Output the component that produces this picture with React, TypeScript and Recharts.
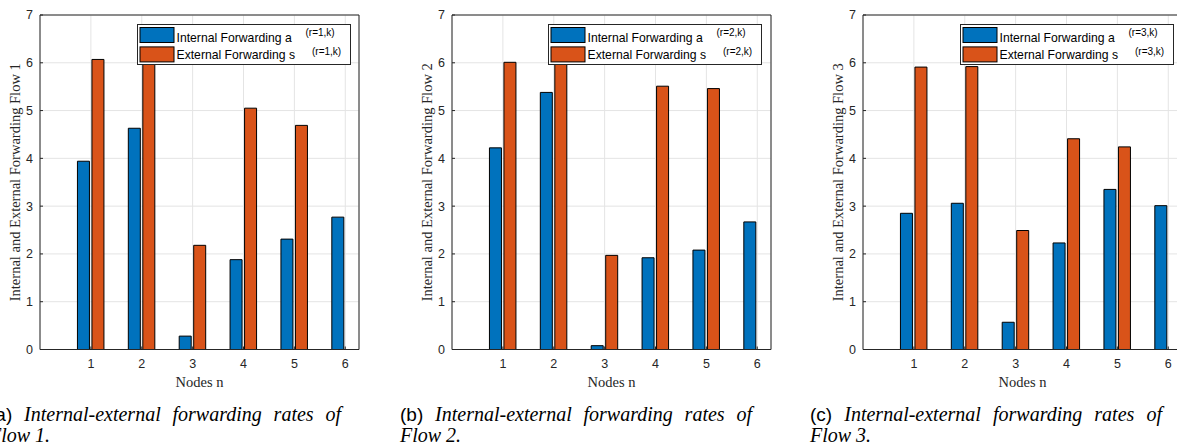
import React from 'react';
import { BarChart, Bar, XAxis, YAxis, CartesianGrid, Legend, Label } from 'recharts';

const nodes = [1, 2, 3, 4, 5, 6];
const flow1Internal = [3.94, 4.63, 0.28, 1.88, 2.31, 2.77];
const flow1External = [6.07, 6.25, 2.18, 5.05, 4.69, null];
const flow2Internal = [4.22, 5.38, 0.08, 1.92, 2.08, 2.67];
const flow2External = [6.01, 6.2, 1.97, 5.51, 5.46, null];
const flow3Internal = [2.85, 3.06, 0.57, 2.23, 3.35, 3.01];
const flow3External = [5.91, 5.92, 2.49, 4.41, 4.24, null];

const yTicks = [0, 1, 2, 3, 4, 5, 6, 7];
const xTicks = [1, 2, 3, 4, 5, 6];
const seriesKeys = ['a', 's'];
const seriesNames = ['Internal Forwarding a', 'External Forwarding s'];
const captionLine1 = 'Internal-external forwarding rates of';
const yLabelPrefix = 'Internal and External Forwarding Flow ';
const xLabelText = 'Nodes n';

const BLUE = '#0072BD';
const ORANGE = '#D95319';
const AXIS = '#262626';
const GRID = '#e4e4e4';
const SANS = '"Liberation Sans", Arial, Helvetica, sans-serif';
const SERIF = '"Liberation Serif", "Times New Roman", Times, serif';

const flows = [
  { id: 1, internal: flow1Internal, external: flow1External, left: 0.3, letter: 'a', capLeft: -11 },
  { id: 2, internal: flow2Internal, external: flow2External, left: 411.6, letter: 'b', capLeft: 400 },
  { id: 3, internal: flow3Internal, external: flow3External, left: 823.3, letter: 'c', capLeft: 810 },
];

const makeLegend = (flow: number) => (props: any) => {
  const colors = [BLUE, ORANGE];
  const payload = [...(props.payload || [])].sort(
    (p: any, q: any) => seriesKeys.indexOf(p.dataKey) - seriesKeys.indexOf(q.dataKey));
  return (
    <svg width={214} height={41} style={{ display: 'block' }}>
      <rect x={0.5} y={0.5} width={213} height={40} fill="#fff" stroke={AXIS} strokeWidth={1} />
      {payload.map((p: any, i: number) => (
        <g key={i}>
          <rect x={3} y={3.5 + i * 19.4} width={34} height={15} fill={p.color || colors[i]} stroke="#000" strokeWidth={1} />
          <text x={39.5} y={17.5 + i * 17.8} fontFamily={SANS} fontSize={12.2} fill="#000">{p.value}</text>
          <text x={168.5 + i * 6.5} y={11.8 + i * 18.8} fontFamily={SANS} fontSize={10} fill="#000">{`(r=${flow},k)`}</text>
        </g>
      ))}
    </svg>
  );
};

const Panel = ({ flow }: { flow: typeof flows[number] }) => {
  const data = nodes.map((n, i) => ({ n, a: flow.internal[i], s: flow.external[i] }));
  const yLabel = (props: any) => {
    const vb = props.viewBox || {};
    const cx = vb.x + vb.width - 25;
    const cy = vb.y + vb.height / 2;
    return (
      <text x={cx} y={cy} transform={`rotate(-90 ${cx} ${cy})`} textAnchor="middle" dy="0.33em"
        fontFamily={SERIF} fontSize={14.5} fill={AXIS}>{yLabelPrefix + flow.id}</text>
    );
  };
  const xLabel = (props: any) => {
    const vb = props.viewBox || {};
    const cx = vb.x + vb.width / 2;
    return (
      <text x={cx} y={vb.y + 37} textAnchor="middle" fontFamily={SERIF} fontSize={14.5} fill={AXIS}>{xLabelText}</text>
    );
  };
  return (
    <div style={{ position: 'absolute', left: flow.left, top: 0 }}>
      <BarChart width={400} height={400} data={data} margin={{ top: 0, right: 1, bottom: 5.5, left: 0 }}
        barSize={12} barGap={2.5}>
        <CartesianGrid stroke={GRID} strokeWidth={1} />
        <XAxis dataKey="n" type="number" domain={[0, 6.27]} ticks={xTicks} allowDataOverflow
          height={45} axisLine={{ stroke: AXIS }} tickLine={{ stroke: AXIS }} tickSize={-3} tickMargin={13}
          tick={{ fill: AXIS, fontFamily: SANS, fontSize: 12.5 }} interval={0}>
          <Label content={xLabel} />
        </XAxis>
        <XAxis xAxisId="top" orientation="top" dataKey="n" type="number" domain={[0, 6.27]} ticks={xTicks}
          allowDataOverflow height={15} axisLine={{ stroke: AXIS }} tickLine={{ stroke: AXIS }} tickSize={-3}
          tick={false} />
        <YAxis domain={[0, 7]} ticks={yTicks} width={40} axisLine={{ stroke: AXIS }} tickLine={{ stroke: AXIS }}
          tickSize={-3} tickMargin={10} tick={{ fill: AXIS, fontFamily: SANS, fontSize: 12.5 }} interval={0}>
          <Label content={yLabel} />
        </YAxis>
        <YAxis yAxisId="right" orientation="right" domain={[0, 7]} ticks={yTicks} width={40}
          axisLine={{ stroke: AXIS }} tickLine={{ stroke: AXIS }} tickSize={-3} tick={false} />
        <Bar dataKey="a" name={seriesNames[0]} fill={BLUE} stroke="#000" strokeWidth={1} isAnimationActive={false} />
        <Bar dataKey="s" name={seriesNames[1]} fill={ORANGE} stroke="#000" strokeWidth={1} isAnimationActive={false} />
        <Legend content={makeLegend(flow.id)} layout="horizontal" verticalAlign="middle" align="center"
          wrapperStyle={{ left: 136.5, top: 24, width: 214, height: 41 }} />
      </BarChart>
    </div>
  );
};

const Caption = ({ flow }: { flow: typeof flows[number] }) => (
  <>
    <div style={{
      position: 'absolute', left: flow.capLeft, top: 404, width: 352, fontFamily: SERIF, fontStyle: 'italic',
      fontSize: 20, lineHeight: '21px', textAlign: 'justify', textAlignLast: 'justify', whiteSpace: 'nowrap',
      color: '#000',
    } as any}>
      <span style={{ fontFamily: SANS, fontStyle: 'normal', fontSize: 19 }}>({flow.letter})</span> {captionLine1}
    </div>
    <div style={{
      position: 'absolute', left: flow.capLeft, top: 425, fontFamily: SERIF, fontStyle: 'italic',
      fontSize: 20, lineHeight: '21px', whiteSpace: 'nowrap', color: '#000',
    }}>
      {`Flow ${flow.id}.`}
    </div>
  </>
);

export default function App() {
  return (
    <div style={{ position: 'absolute', left: 0, top: 0, width: 1177, height: 448, overflow: 'hidden', background: '#fff' }}>
      {flows.map((f) => <Panel key={f.id} flow={f} />)}
      {flows.map((f) => <Caption key={'c' + f.id} flow={f} />)}
    </div>
  );
}
